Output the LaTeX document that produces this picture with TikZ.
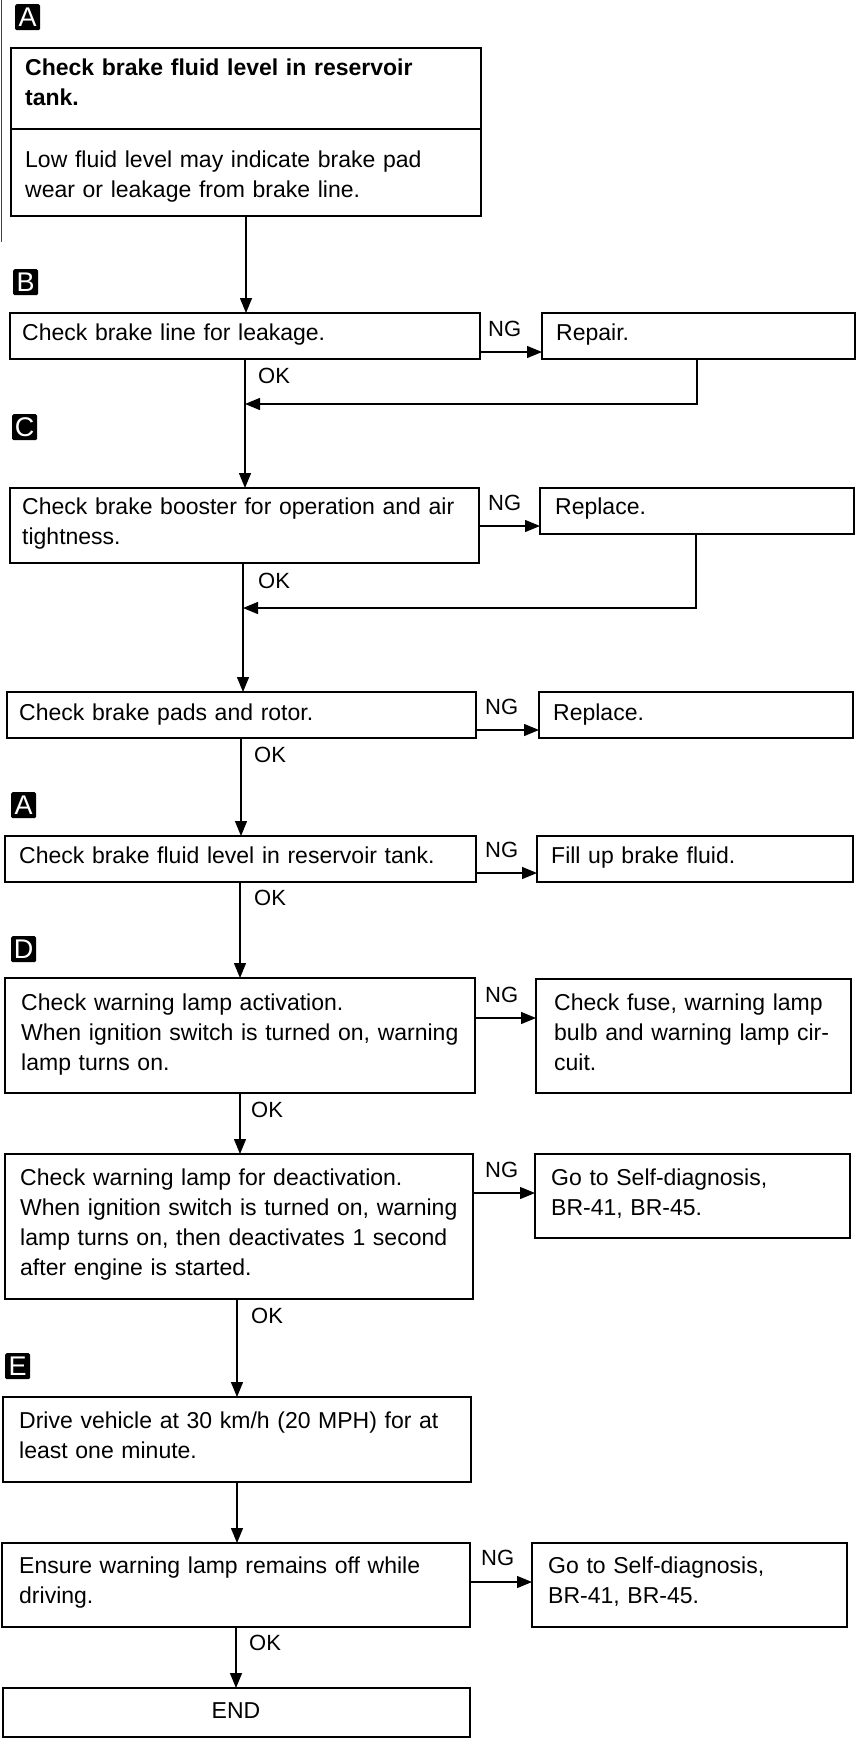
\documentclass[tikz,border=0pt]{standalone}
\usepackage{fontspec}
\setmainfont{Liberation Sans}
\usetikzlibrary{arrows.meta}
\newcommand\mybox[5]{\node[box, minimum width=#4pt, minimum height=#5pt] (#1) at (#2,#3) {};}
\begin{document}
\begin{tikzpicture}[x=1pt,y=-1pt,
  box/.style={draw, line width=1.5pt, anchor=north west, inner sep=0pt, outer sep=0pt},
  txt/.style={anchor=base west, inner sep=0pt, align=left, text width=460pt, font=\fontsize{23}{30}\selectfont},
  rtxt/.style={txt, text width=300pt},
  lbl/.style={anchor=base west, inner sep=0pt, font=\fontsize{22}{26}\selectfont},
  letterbox/.style={fill=black, text=white, rounded corners=1.5pt, minimum width=25pt, minimum height=26pt, inner sep=0pt, anchor=north west, font=\fontsize{27}{27}\selectfont},
  arr/.style={line width=1.3pt, -{Triangle[length=15pt,width=12pt]}},
  ln/.style={line width=1.3pt}]
\useasboundingbox (0,0) rectangle (857,1738);
\fill[white] (0,0) rectangle (857,1738);
\draw[black!75, line width=1pt] (1,0) -- (1,242);

% markers
\node[letterbox] (mA1) at (15,4) {A};
\node[letterbox] (mB) at (13,269) {B};
\node[letterbox] (mC) at (12,414) {C};
\node[letterbox] (mA2) at (11,792) {A};
\node[letterbox] (mD) at (11,936) {D};
\node[letterbox] (mE) at (5,1353) {E};

% boxes
\mybox{b1}{11}{48}{470}{81}
\mybox{b1n}{11}{129}{470}{87}
\mybox{bB}{10}{313}{470}{46}
\mybox{rB}{542}{313}{313}{46}
\mybox{bC}{10}{488}{469}{75}
\mybox{rC}{540}{488}{314}{46}
\mybox{bP}{7}{692}{469}{46}
\mybox{rP}{539}{692}{314}{46}
\mybox{bA}{5}{836}{471}{46}
\mybox{rA}{537}{836}{316}{46}
\mybox{bD}{5}{978}{470}{115}
\mybox{rD}{536}{979}{315}{114}
\mybox{bE}{5}{1154}{468}{145}
\mybox{rE}{535}{1154}{315}{84}
\mybox{bF}{3}{1397}{468}{85}
\mybox{bG}{2}{1543}{468}{84}
\mybox{rG}{532}{1543}{315}{84}
\mybox{bH}{3}{1688}{467}{49}

% texts
\node[txt, font=\fontsize{23}{30}\selectfont\bfseries] (t1) at (25,75) {Check brake fluid level in reservoir\\tank.};
\node[txt] (t1n) at (25,167) {Low fluid level may indicate brake pad\\wear or leakage from brake line.};
\node[txt] (tB) at (22,340) {Check brake line for leakage.};
\node[rtxt] (tRB) at (556,340) {Repair.};
\node[txt] (tC) at (22,514) {Check brake booster for operation and air\\tightness.};
\node[rtxt] (tRC) at (555,514) {Replace.};
\node[txt] (tP) at (19,720) {Check brake pads and rotor.};
\node[rtxt] (tRP) at (553,720) {Replace.};
\node[txt] (tA) at (19,863) {Check brake fluid level in reservoir tank.};
\node[rtxt] (tRA) at (551,863) {Fill up brake fluid.};
\node[txt] (tD) at (21,1010) {Check warning lamp activation.\\When ignition switch is turned on, warning\\lamp turns on.};
\node[rtxt] (tRD) at (554,1010) {Check fuse, warning lamp\\bulb and warning lamp cir-\\cuit.};
\node[txt] (tE) at (20,1185) {Check warning lamp for deactivation.\\When ignition switch is turned on, warning\\lamp turns on, then deactivates 1 second\\after engine is started.};
\node[rtxt] (tRE) at (551,1185) {Go to Self-diagnosis,\\BR-41, BR-45.};
\node[txt] (tF) at (19,1428) {Drive vehicle at 30 km/h (20 MPH) for at\\least one minute.};
\node[txt] (tG) at (19,1573) {Ensure warning lamp remains off while\\driving.};
\node[rtxt] (tRG) at (548,1573) {Go to Self-diagnosis,\\BR-41, BR-45.};
\node[anchor=base, inner sep=0pt, font=\fontsize{23}{30}\selectfont] (tH) at (236,1718) {END};

% NG / OK labels
\node[lbl] (ngB) at (488,336) {NG};
\node[lbl] (ngC) at (488,510) {NG};
\node[lbl] (ngP) at (485,714) {NG};
\node[lbl] (ngA) at (485,857) {NG};
\node[lbl] (ngD) at (485,1002) {NG};
\node[lbl] (ngE) at (485,1177) {NG};
\node[lbl] (ngG) at (481,1565) {NG};
\node[lbl] (okB) at (258,383) {OK};
\node[lbl] (okC) at (258,588) {OK};
\node[lbl] (okP) at (254,762) {OK};
\node[lbl] (okA) at (254,905) {OK};
\node[lbl] (okD) at (251,1117) {OK};
\node[lbl] (okE) at (251,1323) {OK};
\node[lbl] (okG) at (249,1650) {OK};

% coordinates for connector lines
\coordinate (v1) at (246,0);
\coordinate (v2) at (245,0);
\coordinate (v3) at (243,0);
\coordinate (v4) at (241,0);
\coordinate (v5) at (240,0);
\coordinate (v6) at (240,0);
\coordinate (v7) at (237,0);
\coordinate (v8) at (237,0);
\coordinate (v9) at (236,0);
\coordinate (hB) at (0,352);
\coordinate (hC) at (0,526);
\coordinate (hP) at (0,730);
\coordinate (hA) at (0,873);
\coordinate (hD) at (0,1018);
\coordinate (hE) at (0,1193);
\coordinate (hG) at (0,1582);
\coordinate (rtB) at (697,404);
\coordinate (rtC) at (696,608);

% main flow
\draw[arr] (b1n.south -| v1) -- (bB.north -| v1);
\draw[arr] (bB.south -| v2) -- (bC.north -| v2);
\draw[arr] (bC.south -| v3) -- (bP.north -| v3);
\draw[arr] (bP.south -| v4) -- (bA.north -| v4);
\draw[arr] (bA.south -| v5) -- (bD.north -| v5);
\draw[arr] (bD.south -| v6) -- (bE.north -| v6);
\draw[arr] (bE.south -| v7) -- (bF.north -| v7);
\draw[arr] (bF.south -| v8) -- (bG.north -| v8);
\draw[arr] (bG.south -| v9) -- (bH.north -| v9);

% NG branches
\draw[arr] (bB.east |- hB) -- (rB.west |- hB);
\draw[arr] (bC.east |- hC) -- (rC.west |- hC);
\draw[arr] (bP.east |- hP) -- (rP.west |- hP);
\draw[arr] (bA.east |- hA) -- (rA.west |- hA);
\draw[arr] (bD.east |- hD) -- (rD.west |- hD);
\draw[arr] (bE.east |- hE) -- (rE.west |- hE);
\draw[arr] (bG.east |- hG) -- (rG.west |- hG);

% return lines
\draw[arr] (rB.south -| rtB) -- (rtB) -- (rtB -| v2);
\draw[arr] (rC.south -| rtC) -- (rtC) -- (rtC -| v3);
\end{tikzpicture}
\end{document}
